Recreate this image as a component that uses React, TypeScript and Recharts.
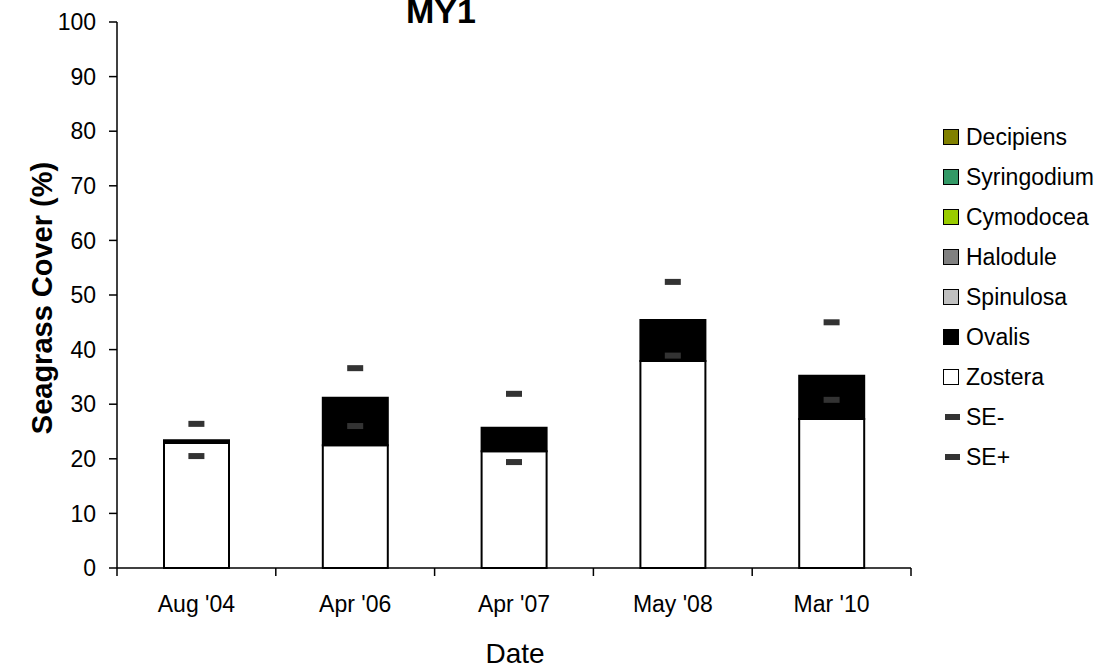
import { Bar, ComposedChart, Line, XAxis, YAxis } from "recharts"

const categories = ["Aug '04", "Apr '06", "Apr '07", "May '08", "Mar '10"]
const zostera = [22.9, 22.5, 21.4, 37.9, 27.3]
const ovalis = [0.5, 8.7, 4.3, 7.5, 7.9]
const spinulosa = [0, 0, 0, 0, 0]
const halodule = [0, 0, 0, 0, 0]
const cymodocea = [0, 0, 0, 0, 0]
const syringodium = [0, 0, 0, 0, 0]
const decipiens = [0, 0, 0, 0, 0]
const seMinus = [20.5, 26.0, 19.4, 38.9, 30.8]
const sePlus = [26.4, 36.6, 31.9, 52.4, 45.0]
const yTicks = [0, 10, 20, 30, 40, 50, 60, 70, 80, 90, 100]

const species = [
    { key: "zostera", name: "Zostera", color: "#ffffff" },
    { key: "ovalis", name: "Ovalis", color: "#000000" },
    { key: "spinulosa", name: "Spinulosa", color: "#c0c0c0" },
    { key: "halodule", name: "Halodule", color: "#808080" },
    { key: "cymodocea", name: "Cymodocea", color: "#99cc00" },
    { key: "syringodium", name: "Syringodium", color: "#339966" },
    { key: "decipiens", name: "Decipiens", color: "#808000" },
]

const data = categories.map((date, i) => ({
    date,
    zostera: zostera[i],
    ovalis: ovalis[i],
    spinulosa: spinulosa[i],
    halodule: halodule[i],
    cymodocea: cymodocea[i],
    syringodium: syringodium[i],
    decipiens: decipiens[i],
    seMinus: seMinus[i],
    sePlus: sePlus[i],
}))

const W = 1107
const H = 671
const FONT = "'Liberation Sans', Arial, sans-serif"
const margin = { top: 22, right: 196, left: 0, bottom: 0 }
const Y_WIDTH = 117
const BAND = (W - Y_WIDTH - margin.right) / categories.length

function DateTick({ x, y, payload, index }: any) {
    const half = BAND / 2
    return (
        <g>
            <line x1={x - half} x2={x - half} y1={y} y2={y + 8} stroke="#000" strokeWidth={1.5} />
            {index === categories.length - 1 && (
                <line x1={x + half} x2={x + half} y1={y} y2={y + 8} stroke="#000" strokeWidth={1.5} />
            )}
            <text x={x} y={y + 44} textAnchor="middle" fontSize={23} fontFamily={FONT} fill="#000">
                {payload.value}
            </text>
        </g>
    )
}

function SeDash({ cx, cy }: any) {
    if (cx == null || cy == null) return null
    return <rect x={cx - 8} y={cy - 3} width={16} height={6} fill="#333333" />
}

function ChartLegend() {
    const items = [...species].reverse()
    return (
        <div style={{ position: "absolute", left: 943, top: 117, fontFamily: FONT, fontSize: 23, color: "#000" }}>
            {items.map((s) => (
                <div key={s.key} style={{ height: 40, display: "flex", alignItems: "center", whiteSpace: "nowrap" }}>
                    <span
                        style={{
                            width: 16,
                            height: 16,
                            boxSizing: "border-box",
                            border: "1.5px solid #000",
                            background: s.color,
                            marginRight: 7,
                        }}
                    />
                    {s.name}
                </div>
            ))}
            {["SE-", "SE+"].map((n) => (
                <div key={n} style={{ height: 40, display: "flex", alignItems: "center" }}>
                    <span style={{ width: 15, height: 6, background: "#333333", marginLeft: 2, marginRight: 6 }} />
                    {n}
                </div>
            ))}
        </div>
    )
}

export default function App() {
    return (
        <div style={{ position: "absolute", left: 0, top: 0, width: W, height: H, background: "#fff", fontFamily: FONT }}>
            <ComposedChart width={W} height={H} data={data} margin={margin}>
                <XAxis
                    dataKey="date"
                    height={103}
                    interval={0}
                    tickSize={0}
                    tickMargin={0}
                    tickLine={false}
                    axisLine={{ stroke: "#000", strokeWidth: 1.5 }}
                    tick={<DateTick />}
                />
                <YAxis
                    width={Y_WIDTH}
                    domain={[0, 100]}
                    ticks={yTicks}
                    interval={0}
                    tickSize={8}
                    tickMargin={13}
                    axisLine={{ stroke: "#000", strokeWidth: 1.5 }}
                    tickLine={{ stroke: "#000", strokeWidth: 1.5 }}
                    tick={{ fill: "#000", fontSize: 23, fontFamily: FONT }}
                />
                {species.map((s) => (
                    <Bar
                        key={s.key}
                        dataKey={s.key}
                        name={s.name}
                        stackId="cover"
                        barSize={65}
                        fill={s.color}
                        stroke="#000"
                        strokeWidth={2}
                        isAnimationActive={false}
                    />
                ))}
                <Line
                    dataKey="seMinus"
                    name="SE-"
                    stroke="none"
                    dot={<SeDash />}
                    activeDot={false}
                    legendType="none"
                    isAnimationActive={false}
                />
                <Line
                    dataKey="sePlus"
                    name="SE+"
                    stroke="none"
                    dot={<SeDash />}
                    activeDot={false}
                    legendType="none"
                    isAnimationActive={false}
                />
            </ComposedChart>
            <svg width={W} height={H} style={{ position: "absolute", left: 0, top: 0, pointerEvents: "none" }}>
                <text x={441} y={23} textAnchor="middle" fontSize={34} fontWeight="bold" fontFamily={FONT} fill="#000">
                    MY1
                </text>
                <text
                    transform="translate(52,298) rotate(-90)"
                    textAnchor="middle"
                    fontSize={29}
                    fontWeight="bold"
                    fontFamily={FONT}
                    fill="#000"
                >
                    Seagrass Cover (%)
                </text>
                <text x={515} y={663} textAnchor="middle" fontSize={28} fontFamily={FONT} fill="#000">
                    Date
                </text>
            </svg>
            <ChartLegend />
        </div>
    )
}
